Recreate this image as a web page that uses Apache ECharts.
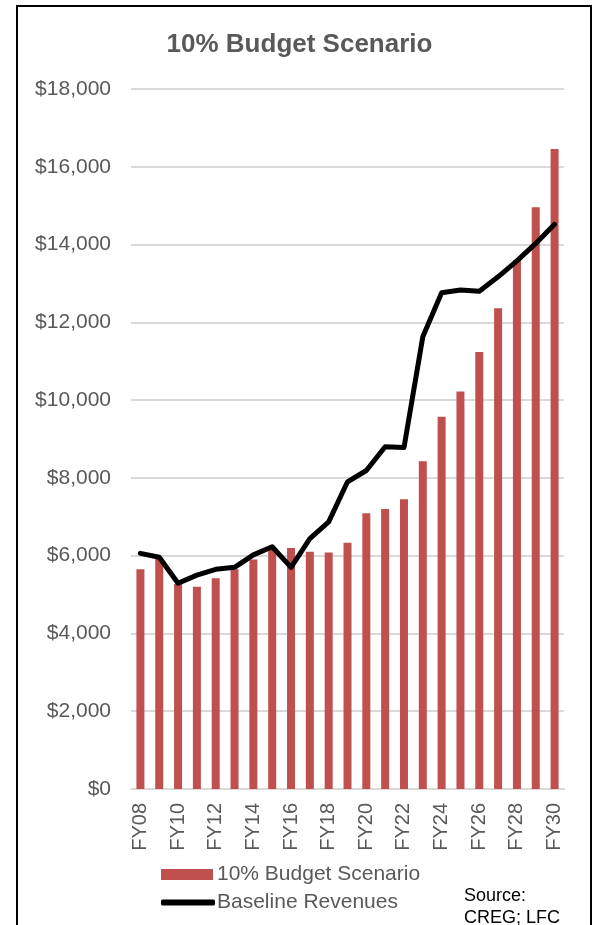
<!DOCTYPE html>
<html>
<head>
<meta charset="utf-8">
<style>
  html, body { margin: 0; padding: 0; background: #fff; }
  #chart { width: 599px; height: 925px; }
</style>
<script src="https://cdn.jsdelivr.net/npm/echarts@6/dist/echarts.min.js"></script>
</head>
<body>
<div id="chart"></div>
<script>
// fiscal years FY08 .. FY30
const years = [
  "FY08", "FY09", "FY10", "FY11", "FY12", "FY13", "FY14", "FY15",
  "FY16", "FY17", "FY18", "FY19", "FY20", "FY21", "FY22", "FY23",
  "FY24", "FY25", "FY26", "FY27", "FY28", "FY29", "FY30",
]
// bars: 10% budget scenario
const budgetScenario = [
  5650, 5950, 5270, 5200, 5420, 5650, 5900, 6150,
  6200, 6100, 6080, 6330, 7090, 7200, 7450, 8430,
  9570, 10220, 11240, 12360, 13600, 14960, 16460,
]
// line: baseline revenues
const baselineRevenues = [
  6060, 5960, 5290, 5500, 5650, 5700, 6020, 6230,
  5700, 6440, 6870, 7900, 8190, 8800, 8780, 11630,
  12760, 12830, 12800, 13170, 13580, 14030, 14520,
]
const yTicks = { min: 0, max: 18000, step: 2000 }

const grey = "#595959"
const font = "Liberation Sans"

function money(v) {
  return "$" + v.toString().replace(/(\d)(?=(\d{3})+$)/g, "$1,")
}

const myChart = echarts.init(document.getElementById("chart"))
myChart.setOption({
  animation: false,
  textStyle: { fontFamily: font },
  title: {
    text: "10% Budget Scenario",
    left: "center",
    top: 27,
    textStyle: { fontSize: 26, fontWeight: "bold", color: grey, fontFamily: font },
  },
  legend: [
    {
      data: [{ name: "10% Budget Scenario", icon: "rect" }],
      left: 156,
      top: 859,
      itemWidth: 52,
      itemHeight: 11,
      textStyle: { color: grey, fontSize: 21, fontFamily: font, padding: [0, 0, 0, -1] },
    },
    {
      data: [{ name: "Baseline Revenues", icon: "roundRect" }],
      left: 156,
      top: 887,
      itemWidth: 54,
      itemHeight: 6,
      textStyle: { color: grey, fontSize: 21, fontFamily: font, padding: [0, 0, 0, -3] },
    },
  ],
  grid: { left: 131, right: 35, top: 89, bottom: 136 },
  xAxis: {
    type: "category",
    data: years,
    axisLine: { lineStyle: { color: "#D9D9D9", width: 2 } },
    axisTick: { show: false },
    axisLabel: {
      rotate: 90,
      interval: 1,
      margin: 14,
      color: grey,
      fontSize: 20,
      fontFamily: font,
    },
  },
  yAxis: {
    type: "value",
    min: yTicks.min,
    max: yTicks.max,
    interval: yTicks.step,
    axisLine: { show: false },
    axisTick: { show: false },
    splitLine: { lineStyle: { color: "#D9D9D9", width: 2 } },
    axisLabel: {
      formatter: money,
      margin: 20,
      color: grey,
      fontSize: 21,
      fontFamily: font,
    },
  },
  series: [
    {
      name: "10% Budget Scenario",
      type: "bar",
      data: budgetScenario,
      barWidth: 8,
      itemStyle: { color: "#C0504D" },
    },
    {
      name: "Baseline Revenues",
      type: "line",
      data: baselineRevenues,
      showSymbol: false,
      symbol: "none",
      color: "#000",
      lineStyle: { color: "#000", width: 5, cap: "round", join: "round" },
    },
  ],
  graphic: [
    {
      type: "rect",
      shape: { x: 17, y: 6, width: 574, height: 940 },
      style: { fill: "none", stroke: "#000", lineWidth: 2 },
      silent: true,
    },
    {
      type: "text",
      left: 464,
      top: 887,
      style: { text: "Source:", fill: "#000", fontSize: 18, fontFamily: font },
    },
    {
      type: "text",
      left: 464,
      top: 909,
      style: { text: "CREG; LFC", fill: "#000", fontSize: 18, fontFamily: font },
    },
  ],
})
window.addEventListener("resize", function () {
  myChart.resize()
})
</script>
</body>
</html>
